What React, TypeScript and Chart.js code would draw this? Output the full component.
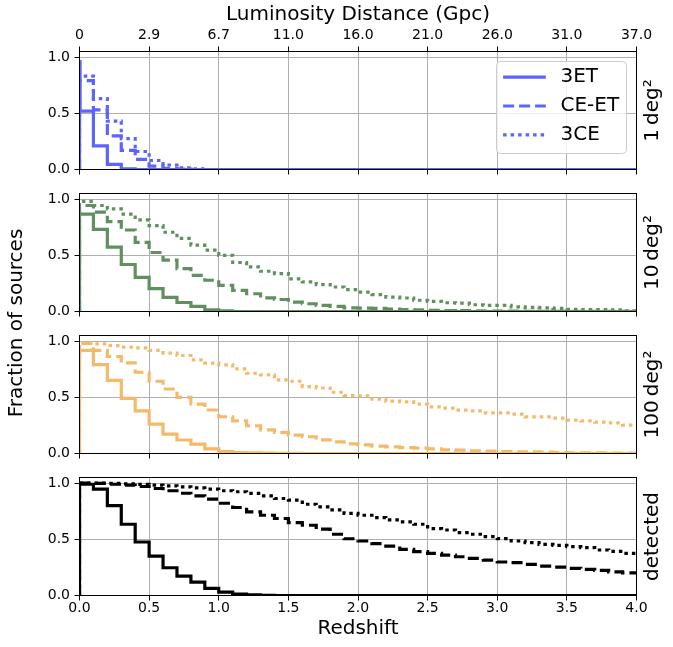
import { useEffect, useRef } from 'react'
import { Chart, registerables } from 'chart.js'

Chart.register(...registerables)
Chart.defaults.font.family = 'DejaVu Sans'
Chart.defaults.color = '#000'

// redshift bin edges (0.1 wide)
const zEdges = [0.0,0.1,0.2,0.3,0.4,0.5,0.6,0.7,0.8,0.9,1.0,1.1,1.2,1.3,1.4,1.5,1.6,1.7,1.8,1.9,2.0,2.1,2.2,2.3,2.4,2.5,2.6,2.7,2.8,2.9,3.0,3.1,3.2,3.3,3.4,3.5,3.6,3.7,3.8,3.9,4.0]
const zTicks = [0, 0.5, 1, 1.5, 2, 2.5, 3, 3.5, 4]
const dlTickLabels = ['0', '2.9', '6.7', '11.0', '16.0', '21.0', '26.0', '31.0', '37.0']
const yTicks = [0, 0.5, 1]
const seriesNames = ['3ET', 'CE-ET', '3CE']
const panelLabels = ['1\u2009deg²', '10\u2009deg²', '100\u2009deg²', 'detected']

// 1 deg2 (3ET has a very narrow first bin)
const deg1Lead = [0.004, 0.96]
const deg1_3ET = [0.52, 0.21, 0.045, 0.005, 0]
const deg1_CEET = [0.79, 0.53, 0.30, 0.17, 0.09, 0.03, 0.01, 0.003, 0]
const deg1_3CE = [0.83, 0.63, 0.43, 0.275, 0.16, 0.08, 0.04, 0.015, 0.005, 0]

// 10 deg2
const deg10_3ET = [0.866,0.73,0.573,0.418,0.304,0.203,0.125,0.08,0.045,0.015,0.006,0]
const deg10_CEET = [0.943,0.884,0.80,0.725,0.615,0.525,0.457,0.382,0.322,0.278,0.233,0.188,0.158,0.122,0.107,0.084,0.069,0.054,0.045,0.033,0.03,0.027,0.022,0.018,0.014,0.011,0.009,0.007,0.005,0.004,0.003,0.003,0.002,0.002,0.002,0.001,0.001,0.001,0.001,0.001]
const deg10_3CE = [0.98,0.943,0.913,0.866,0.815,0.764,0.705,0.65,0.59,0.546,0.50,0.436,0.397,0.358,0.337,0.29,0.263,0.24,0.218,0.195,0.173,0.15,0.128,0.12,0.1,0.09,0.078,0.075,0.06,0.054,0.054,0.042,0.036,0.033,0.028,0.02,0.018,0.018,0.015,0.006]

// 100 deg2
const deg100_3ET = [0.917,0.79,0.65,0.49,0.38,0.262,0.173,0.12,0.083,0.042,0.018,0.009,0.005,0.003,0.002,0.001,0]
const deg100_CEET = [0.98,0.917,0.863,0.807,0.723,0.643,0.574,0.5,0.44,0.387,0.327,0.29,0.247,0.211,0.188,0.164,0.149,0.122,0.104,0.085,0.077,0.065,0.059,0.053,0.047,0.042,0.033,0.03,0.024,0.021,0.018,0.015,0.015,0.012,0.009,0.006,0.006,0.006,0.003,0.003]
const deg100_3CE = [0.985,0.976,0.96,0.946,0.94,0.917,0.893,0.872,0.833,0.804,0.789,0.753,0.714,0.70,0.655,0.643,0.595,0.583,0.545,0.515,0.513,0.484,0.466,0.46,0.44,0.415,0.404,0.386,0.38,0.362,0.362,0.35,0.326,0.326,0.315,0.297,0.29,0.279,0.273,0.252]

// detected
const det_3ET = [0.99,0.946,0.8,0.634,0.476,0.351,0.247,0.173,0.119,0.063,0.03,0.012,0.006,0.002,0]
const det_CEET = [1.0,0.997,0.99,0.982,0.97,0.952,0.932,0.91,0.887,0.857,0.821,0.783,0.744,0.714,0.685,0.649,0.625,0.59,0.545,0.505,0.485,0.461,0.44,0.41,0.39,0.375,0.36,0.345,0.33,0.315,0.298,0.292,0.277,0.262,0.253,0.241,0.232,0.223,0.211,0.202]
const det_3CE = [1.0,1.0,0.997,0.994,0.988,0.982,0.976,0.967,0.958,0.946,0.932,0.923,0.908,0.887,0.863,0.848,0.812,0.789,0.762,0.73,0.714,0.693,0.673,0.655,0.634,0.595,0.583,0.56,0.545,0.524,0.506,0.485,0.47,0.455,0.446,0.435,0.426,0.405,0.393,0.375]

const panelSeries = [
  [deg1_3ET, deg1_CEET, deg1_3CE],
  [deg10_3ET, deg10_CEET, deg10_3CE],
  [deg100_3ET, deg100_CEET, deg100_3CE],
  [det_3ET, det_CEET, det_3CE],
]
const panelColors = ['rgb(92,100,255)', 'rgb(96,143,96)', 'rgb(245,185,108)', '#000000']
const dashes = [[], [11, 5], [3.5, 4]]

// canvas placement: [canvas top, canvas height, pad top, top axis h, bottom axis h]
const layouts = [
  [0, 177, 0, 51.5, 7.5],
  [188, 131, 5.5, 0, 7.5],
  [330, 131, 5.5, 0, 7.5],
  [472, 175, 5.5, 0, 51.5],
]

const tickFont = { family: 'DejaVu Sans', size: 14 }
const titleFont = { family: 'DejaVu Sans', size: 20 }
const gridOpts = { color: '#b0b0b0', lineWidth: 1, tickLength: 5, tickColor: '#000', tickWidth: 1 }

function stepPoints(values: number[], lead?: number[]) {
  const pts = [{ x: zEdges[0], y: 0 }]
  if (lead) pts.push({ x: zEdges[0], y: lead[1] })
  values.forEach((v, i) => pts.push({ x: i === 0 && lead ? lead[0] : zEdges[i], y: v }))
  pts.push({ x: zEdges[zEdges.length - 1], y: values[values.length - 1] })
  return pts
}

// keep tick labels from shrinking the plot area
function noPad(s: any) {
  s.paddingTop = 0
  s.paddingBottom = 0
  s.paddingLeft = 0
  s.paddingRight = 0
}

// spines sit above the step lines, like matplotlib
const framePlugin = {
  id: 'frame',
  afterDatasetsDraw(chart: any) {
    const { ctx, chartArea: a } = chart
    ctx.save()
    ctx.strokeStyle = '#000'
    ctx.lineWidth = 1
    ctx.strokeRect(a.left, a.top, a.right - a.left, a.bottom - a.top)
    ctx.restore()
  },
}

const boxLegend = {
  id: 'boxLegend',
  afterDraw(chart: any) {
    const { ctx, chartArea: a } = chart
    const w = 130, h = 92
    const x0 = a.right - 10 - w, y0 = a.top + 10
    ctx.save()
    ctx.beginPath()
    ctx.roundRect(x0, y0, w, h, 4)
    ctx.fillStyle = 'rgba(255,255,255,0.8)'
    ctx.fill()
    ctx.strokeStyle = '#cccccc'
    ctx.lineWidth = 1
    ctx.stroke()
    chart.data.datasets.forEach((ds: any, k: number) => {
      const y = y0 + 15.6 + k * 28.9
      ctx.beginPath()
      ctx.strokeStyle = ds.borderColor
      ctx.lineWidth = ds.borderWidth
      ctx.setLineDash(ds.borderDash)
      ctx.moveTo(x0 + 6.6, y)
      ctx.lineTo(x0 + 49.3, y)
      ctx.stroke()
      ctx.setLineDash([])
      ctx.fillStyle = '#000'
      ctx.font = '20px "DejaVu Sans"'
      ctx.textBaseline = 'middle'
      ctx.fillText(ds.label, x0 + 64, y)
    })
    ctx.restore()
  },
}

function sideLabel(text: string) {
  return {
    id: 'sideLabel',
    afterDraw(chart: any) {
      const { ctx, chartArea: a } = chart
      ctx.save()
      ctx.translate(657.5, (a.top + a.bottom) / 2)
      ctx.rotate(-Math.PI / 2)
      ctx.fillStyle = '#000'
      ctx.font = '20px "DejaVu Sans"'
      ctx.textAlign = 'center'
      ctx.textBaseline = 'alphabetic'
      ctx.fillText(text, 0, 0)
      ctx.restore()
    },
  }
}

function makeConfig(i: number): any {
  const [, , padTop, topH, bottomH] = layouts[i]
  const isLast = i === layouts.length - 1
  const scales: any = {
    x: {
      type: 'linear', min: 0, max: 4, position: 'bottom',
      afterBuildTicks: (s: any) => { s.ticks = zTicks.map(v => ({ value: v })) },
      afterFit: (s: any) => { s.height = bottomH; noPad(s) },
      grid: gridOpts,
      border: { display: false },
      ticks: {
        display: isLast, padding: -1, font: tickFont, color: '#000',
        maxRotation: 0, autoSkip: false,
        callback: (v: number) => v.toFixed(1),
      },
      title: { display: isLast, text: 'Redshift', font: titleFont, color: '#000', padding: { top: 0, bottom: 6 } },
    },
    y: {
      min: 0, max: 1.05,
      afterBuildTicks: (s: any) => { s.ticks = yTicks.map(v => ({ value: v })) },
      afterFit: (s: any) => { s.width = 79.5; noPad(s) },
      grid: gridOpts,
      border: { display: false },
      ticks: { padding: 4.5, font: tickFont, color: '#000', callback: (v: number) => v.toFixed(1) },
    },
  }
  if (i === 0) {
    scales.x2 = {
      type: 'linear', min: 0, max: 4, position: 'top', display: true,
      afterBuildTicks: (s: any) => { s.ticks = zTicks.map(v => ({ value: v })) },
      afterFit: (s: any) => { s.height = topH; noPad(s) },
      grid: { ...gridOpts, drawOnChartArea: false },
      border: { display: false },
      ticks: {
        padding: 2.8, font: tickFont, color: '#000', maxRotation: 0, autoSkip: false,
        callback: (_v: number, idx: number) => dlTickLabels[idx],
      },
      title: { display: true, text: 'Luminosity Distance (Gpc)', font: titleFont, color: '#000', padding: { top: 3, bottom: 0 } },
    }
  }
  const datasets = panelSeries[i].map((vals, k) => ({
    label: seriesNames[k],
    data: stepPoints(vals, i === 0 && k === 0 ? deg1Lead : undefined),
    borderColor: panelColors[i],
    borderWidth: 3.2,
    borderDash: dashes[k],
    stepped: 'before',
    pointRadius: 0,
    fill: false,
    tension: 0,
    clip: 0,
  }))
  const plugins: any[] = [framePlugin, sideLabel(panelLabels[i])]
  if (i === 0) plugins.push(boxLegend)
  return {
    type: 'line',
    data: { datasets },
    options: {
      animation: false,
      responsive: false,
      maintainAspectRatio: false,
      events: [],
      layout: { autoPadding: false, padding: { left: 0, right: 36.5, top: padTop, bottom: 0 } },
      plugins: { legend: { display: false }, tooltip: { enabled: false } },
      scales,
    },
    plugins,
  }
}

export default function App() {
  const canvasRefs = useRef<(HTMLCanvasElement | null)[]>([])

  useEffect(() => {
    document.body.style.margin = '0'
    const charts = layouts.map((_, i) => new Chart(canvasRefs.current[i]!, makeConfig(i)))
    return () => charts.forEach(c => c.destroy())
  }, [])

  return (
    <div style={{ position: 'relative', width: 673, height: 647, background: '#fff', fontFamily: 'DejaVu Sans' }}>
      {layouts.map((l, i) => (
        <canvas
          key={i}
          ref={el => { canvasRefs.current[i] = el }}
          width={673}
          height={l[1]}
          style={{ position: 'absolute', left: 0, top: l[0], width: 673, height: l[1] }}
        />
      ))}
      <div
        style={{
          position: 'absolute', left: 15 - 150, top: 323 - 12, width: 300, height: 24,
          lineHeight: '24px', textAlign: 'center', fontSize: 20, color: '#000',
          transform: 'rotate(-90deg)', whiteSpace: 'nowrap',
        }}
      >
        Fraction of sources
      </div>
    </div>
  )
}
